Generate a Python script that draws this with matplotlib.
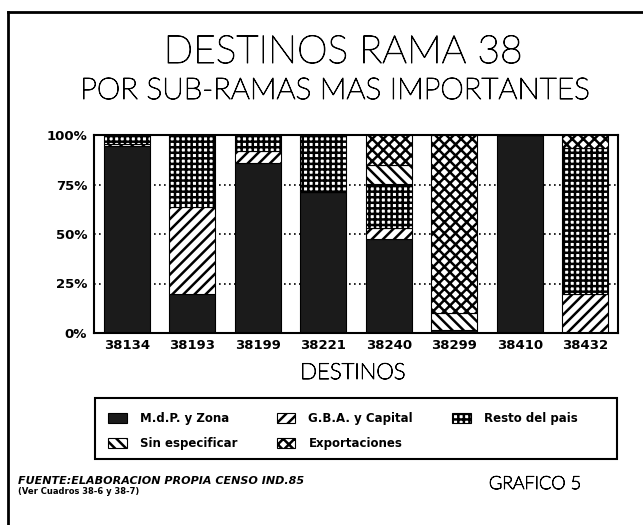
import numpy as np
import matplotlib
matplotlib.use("Agg")
import matplotlib.pyplot as plt
import matplotlib.patheffects as pe
from matplotlib.patches import Patch, Rectangle
from matplotlib.lines import Line2D

# datos (porcentaje de cada destino)
subramas = ["38134", "38193", "38199", "38221", "38240", "38299", "38410", "38432"]
mdp_zona = [94.5, 19.5, 86.0, 71.0, 47.5, 1.5, 100.0, 0.0]
gba_capital = [1.0, 44.0, 6.0, 0.0, 5.5, 0.0, 0.0, 19.5]
resto_pais = [4.5, 36.5, 8.0, 29.0, 22.5, 0.0, 0.0, 74.0]
sin_especificar = [0.0, 0.0, 0.0, 0.0, 9.5, 8.5, 0.0, 0.0]
exportaciones = [0.0, 0.0, 0.0, 0.0, 15.0, 90.0, 0.0, 6.5]

series = [
    ("M.d.P. y Zona", mdp_zona),
    ("G.B.A. y Capital", gba_capital),
    ("Resto del pais", resto_pais),
    ("Sin especificar", sin_especificar),
    ("Exportaciones", exportaciones),
]
estilos = {
    "M.d.P. y Zona": dict(facecolor="#1b1b1b", hatch=None),
    "G.B.A. y Capital": dict(facecolor="white", hatch="///"),
    "Resto del pais": dict(facecolor="white", hatch="+++"),
    "Sin especificar": dict(facecolor="white", hatch="\\\\\\"),
    "Exportaciones": dict(facecolor="white", hatch="xxx"),
}

plt.rcParams["hatch.linewidth"] = 1.8
plt.rcParams["hatch.color"] = "black"

W, H = 643, 525
fig = plt.figure(figsize=(W / 100, H / 100), dpi=100)

def fx(px):
    return px / W

def fy(py):
    return 1 - py / H

# letra fina pero negra, como la del original
fina = dict(family="Lato", fontweight="light", color="black",
            path_effects=[pe.withStroke(linewidth=0.7, foreground="black")])

ax = fig.add_axes([fx(94), fy(333), fx(618) - fx(94), fy(135) - fy(333)])

x = np.arange(len(subramas)) + 0.5
bottom = np.zeros(len(subramas))
for nombre, vals in series:
    st = estilos[nombre]
    ax.bar(x, vals, width=0.7, bottom=bottom, facecolor=st["facecolor"],
           hatch=st["hatch"], edgecolor="black", linewidth=0.8)
    bottom += np.array(vals)

ax.set_xlim(0, len(subramas))
ax.set_ylim(0, 100)
ax.set_yticks([0, 25, 50, 75, 100])
ax.set_yticklabels(["0%", "25%", "50%", "75%", "100%"], fontsize=9.5, fontweight="bold")
ax.set_xticks(x)
ax.set_xticklabels(subramas, fontsize=9.5, fontweight="bold")
ax.tick_params(axis="both", length=0)
ax.tick_params(axis="y", pad=5)
ax.tick_params(axis="x", pad=4)
ax.yaxis.grid(True, linestyle=(0, (1, 2)), color="black", linewidth=1.2)
ax.set_axisbelow(True)
for s in ax.spines.values():
    s.set_linewidth(1.5)

fig.text(fx(353), fy(373), "DESTINOS", ha="center", va="center", fontsize=16, **fina)

# titulos
fig.text(fx(343), fy(52), "DESTINOS RAMA 38", ha="center", va="center", fontsize=28, **fina)
fig.text(fx(335), fy(91), "POR SUB-RAMAS MAS IMPORTANTES", ha="center", va="center",
         fontsize=21.5, **fina)

# leyenda
fig.patches.append(Rectangle((fx(95), fy(459)), fx(617) - fx(95), fy(398) - fy(459),
                             transform=fig.transFigure, facecolor="none",
                             edgecolor="black", linewidth=1.5))
handles = {n: Patch(facecolor=estilos[n]["facecolor"], hatch=estilos[n]["hatch"],
                    edgecolor="black", linewidth=0.8, label=n) for n, _ in series}
orden = ["M.d.P. y Zona", "Sin especificar", "G.B.A. y Capital", "Exportaciones", "Resto del pais"]
fig.legend([handles[n] for n in orden], orden, ncol=3, frameon=False,
           loc="upper left", bbox_to_anchor=(fx(100), fy(404)),
           prop=dict(size=8.5, weight="bold"), handlelength=1.6, handleheight=0.9,
           handletextpad=1.1, labelspacing=1.0, columnspacing=3.3,
           borderpad=0.2)

# pie
fig.text(fx(18), fy(481), "FUENTE:ELABORACION PROPIA CENSO IND.85", ha="left", va="center",
         fontsize=8, fontweight="bold", style="italic")
fig.text(fx(18), fy(491), "(Ver Cuadros 38-6 y 38-7)", ha="left", va="center",
         fontsize=6, fontweight="bold")
fig.text(fx(535), fy(484), "GRAFICO 5", ha="center", va="center", fontsize=13, **fina)

# marco de la pagina
fig.add_artist(Line2D([fx(8), fx(8)], [0, fy(12)], transform=fig.transFigure,
                      color="black", linewidth=2))
fig.add_artist(Line2D([fx(8), 1], [fy(12), fy(12)], transform=fig.transFigure,
                      color="black", linewidth=2))

fig.savefig("out.png", dpi=100)
